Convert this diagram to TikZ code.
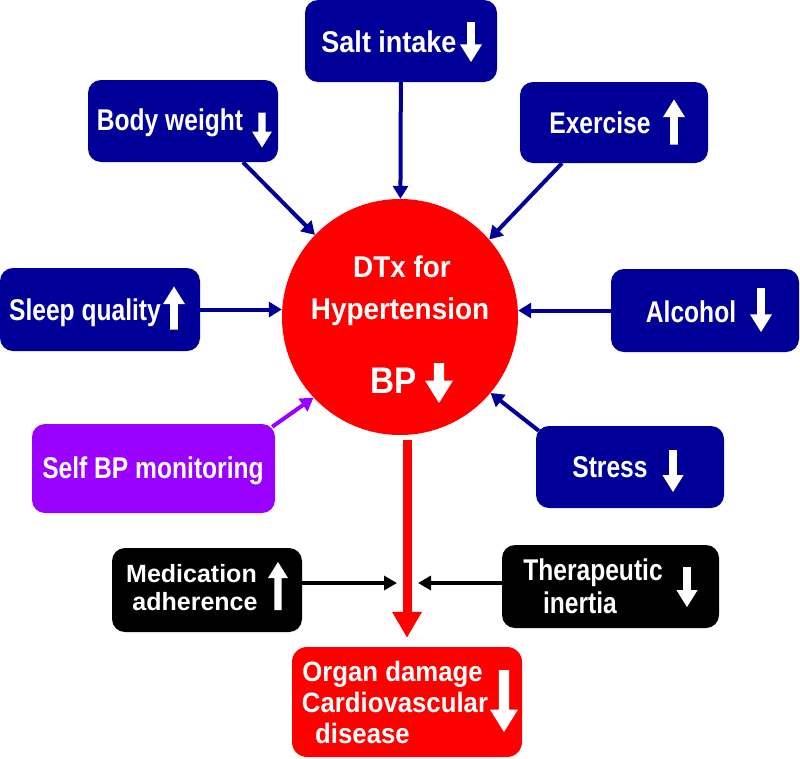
\documentclass[tikz,border=0pt]{standalone}
\usepackage{fontspec}
\setmainfont{Liberation Sans}
\newfontfamily\fA{Liberation Sans}[FakeStretch=0.82]
\newfontfamily\fB{Liberation Sans}[FakeStretch=0.9]
\newfontfamily\fC{Liberation Sans}[FakeStretch=0.93]
\newfontfamily\fD{Liberation Sans}[FakeStretch=0.92]
\usetikzlibrary{arrows.meta}
\definecolor{navy}{RGB}{0,0,153}
\definecolor{violetbox}{RGB}{153,0,255}
\newcommand\blkarrow[5]{% x, y (centre), length, width, direction (1 down, -1 up)
  \fill[white,shift={(#1,#2)},yscale=#5]
    ({-0.18*#4},{-#3/2}) -- ({0.18*#4},{-#3/2}) -- ({0.18*#4},{#3/2-0.8*#4})
    -- ({#4/2},{#3/2-0.8*#4}) -- (0,{#3/2}) -- ({-#4/2},{#3/2-0.8*#4})
    -- ({-0.18*#4},{#3/2-0.8*#4}) -- cycle;}
\begin{document}
\begin{tikzpicture}[x=1pt,y=-1pt,
  box/.style 2 args={rectangle, rounded corners=13pt, minimum width=#1, minimum height=#2, inner sep=0pt},
  navybox/.style={fill=navy},
  lbl/.style={text=white, anchor=base, inner sep=0pt, font=\fA\bfseries\fontsize{30}{36}\selectfont},
  navarr/.style={draw=navy, line width=4pt, -{Triangle[width=15pt,length=13pt]}},
  purarr/.style={draw=violetbox, line width=4pt, -{Triangle[width=15pt,length=13pt]}},
  blkarr/.style={draw=black, line width=3.5pt, -{Triangle[width=14pt,length=13pt]}},
  redarr/.style={draw=red, line width=9pt, -{Triangle[width=28pt,length=26pt]}}]
\fill[white] (0,0) rectangle (800,758);
\useasboundingbox (0,0) rectangle (800,758);

% central circle
\node[circle, fill=red, minimum size=236pt, inner sep=0pt] (c) at (400,317) {};

% boxes
\node[box={192pt}{82pt}, navybox] (salt) at (401,41) {};
\node[box={190pt}{82pt}, navybox] (body) at (183,121) {};
\node[box={188pt}{81pt}, navybox] (ex) at (614,122.5) {};
\node[box={200pt}{83pt}, navybox] (sleep) at (100,309.5) {};
\node[box={188pt}{83pt}, navybox] (alc) at (705,310.5) {};
\node[box={188pt}{82pt}, navybox] (stress) at (630,467) {};
\node[box={243pt}{89pt}, fill=violetbox] (self) at (153.5,468.5) {};
\node[box={190pt}{84pt}, fill=black] (med) at (207,590) {};
\node[box={217pt}{83pt}, fill=black] (ther) at (610.5,586.5) {};
\node[box={230pt}{110pt}, rounded corners=15pt, fill=red] (organ) at (407,702) {};

% labels
\node[lbl, font=\fB\bfseries\fontsize{30}{36}\selectfont] (saltT) at (389,52) {Salt intake};
\node[lbl] (bodyT) at (170,130) {Body weight};
\node[lbl] (exT) at (600,133) {Exercise};
\node[lbl] (sleepT) at (85,320) {Sleep quality};
\node[lbl] (alcT) at (691,322) {Alcohol};
\node[lbl] (stressT) at (610,477) {Stress};
\node[lbl] (selfT) at (153,478) {Self BP monitoring};
\node[lbl, font=\bfseries\fontsize{25}{30}\selectfont] (medT1) at (191.5,582) {Medication};
\node[lbl, font=\bfseries\fontsize{25}{30}\selectfont] (medT2) at (195,610) {adherence};
\node[lbl] (therT1) at (593,580) {Therapeutic};
\node[lbl] (therT2) at (580,613) {inertia};
\node[lbl, font=\fC\bfseries\fontsize{30}{36}\selectfont] (cT1) at (402,277) {DTx for};
\node[lbl, font=\fC\bfseries\fontsize{30}{36}\selectfont] (cT2) at (400,319) {Hypertension};
\node[lbl, font=\fB\bfseries\fontsize{37}{44}\selectfont] (cT3) at (394,393) {BP};
\node[lbl, font=\fD\bfseries\fontsize{28}{34}\selectfont] (orgT1) at (392.5,681) {Organ damage};
\node[lbl, font=\fD\bfseries\fontsize{28}{34}\selectfont] (orgT2) at (395,712) {Cardiovascular};
\node[lbl, font=\fD\bfseries\fontsize{28}{34}\selectfont] (orgT3) at (362.5,743) {disease};

% white block arrows
\blkarrow{471}{42}{40}{22}{1}
\blkarrow{262}{130}{35}{20}{1}
\blkarrow{674}{122}{45}{22}{-1}
\blkarrow{174}{308}{43}{22}{-1}
\blkarrow{761}{310}{44}{22}{1}
\blkarrow{673}{471}{42}{21}{1}
\blkarrow{439}{383}{40}{28}{1}
\blkarrow{278}{586}{48}{20}{-1}
\blkarrow{687}{587}{40}{21}{1}
\blkarrow{504}{701}{62}{28}{1}

% connectors
\draw[navarr] (salt) -- (c);
\draw[navarr] ([xshift=60pt]body.south) -- (c.136);
\draw[navarr] ([xshift=-52pt]ex.south) -- (c.41);
\draw[navarr] (sleep.east) -- (sleep.east -| c.west);
\draw[navarr] (alc.west) -- (alc.west -| c.east);
\draw[navarr] ([shift={(3,5)}]stress.north west) -- (c.-40);
\draw[purarr] ([shift={(-3,3)}]self.north east) -- (c.223);
\draw[redarr, shorten <=5pt, shorten >=9pt] (c.south -| organ.north) -- (organ.north);
\coordinate (ml) at (397,583);
\coordinate (mr) at (418,583);
\draw[blkarr] (med.east |- ml) -- (ml);
\draw[blkarr] (ther.west |- mr) -- (mr);
\end{tikzpicture}
\end{document}
